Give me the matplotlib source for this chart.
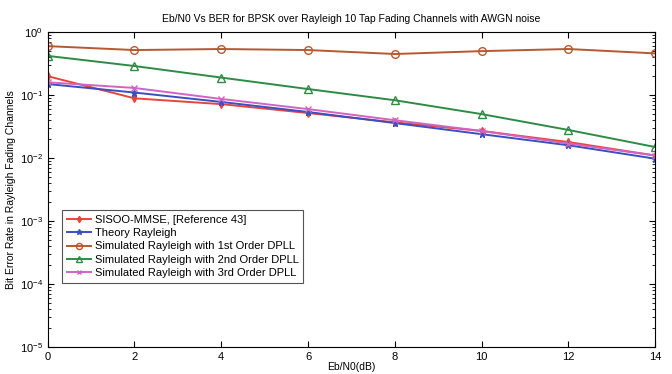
import matplotlib
matplotlib.use("Agg")
import matplotlib.pyplot as plt

ebn0 = [0, 2, 4, 6, 8, 10, 12, 14]

sisoo_mmse = [0.20, 0.089, 0.072, 0.052, 0.037, 0.027, 0.018, 0.011]
theory = [0.150, 0.110, 0.078, 0.054, 0.036, 0.024, 0.016, 0.0098]
dpll_1st = [0.60, 0.52, 0.54, 0.52, 0.45, 0.50, 0.54, 0.46]
dpll_2nd = [0.42, 0.29, 0.19, 0.125, 0.083, 0.050, 0.028, 0.015]
dpll_3rd = [0.16, 0.13, 0.087, 0.060, 0.040, 0.027, 0.017, 0.011]

labels = [
    "SISOO-MMSE, [Reference 43]",
    "Theory Rayleigh",
    "Simulated Rayleigh with 1st Order DPLL",
    "Simulated Rayleigh with 2nd Order DPLL",
    "Simulated Rayleigh with 3rd Order DPLL",
]

plt.rcParams["font.family"] = ["Liberation Sans", "DejaVu Sans"]
plt.rcParams["font.size"] = 8


def plot():
    fig = plt.figure(figsize=(6.72, 3.74), dpi=100)
    ax = fig.add_axes([0.071, 0.072, 0.904, 0.842])

    ax.plot(ebn0, sisoo_mmse, color="#e8453a", marker="d", ms=4, lw=1.4, label=labels[0])
    ax.plot(ebn0, theory, color="#3a4fc0", marker="*", ms=5, lw=1.4, label=labels[1])
    ax.plot(ebn0, dpll_1st, color="#b8582f", marker="o", ms=5.5, mfc="none", lw=1.4, label=labels[2])
    ax.plot(ebn0, dpll_2nd, color="#2e8b45", marker="^", ms=5.5, mfc="none", lw=1.4, label=labels[3])
    ax.plot(ebn0, dpll_3rd, color="#d064c4", marker="x", ms=4, lw=1.4, label=labels[4])

    ax.set_yscale("log")
    ax.set_xlim(0, 14)
    ax.set_ylim(1e-5, 1)
    ax.set_xticks(range(0, 15, 2))

    ax.tick_params(which="both", direction="in", top=True, right=True)
    ax.tick_params(which="major", length=4)
    ax.tick_params(which="minor", length=2)

    ax.set_title("Eb/N0 Vs BER for BPSK over Rayleigh 10 Tap Fading Channels with AWGN noise",
                 fontsize=7.5, pad=7)
    ax.set_xlabel("Eb/N0(dB)", fontsize=7.5, labelpad=0)
    ax.set_ylabel("Bit Error Rate in Rayleigh Fading Channels", fontsize=7.5, labelpad=3)

    leg = ax.legend(loc="lower left", bbox_to_anchor=(0.024, 0.205), fancybox=False,
                    edgecolor="#555555", framealpha=1, handlelength=2.2, handletextpad=0.3,
                    borderaxespad=0, labelspacing=0.3, fontsize=8, markerscale=0.8)
    leg.get_frame().set_linewidth(0.8)

    return fig


def main():
    fig = plot()
    fig.savefig("out.png", dpi=100)


if __name__ == "__main__":
    main()
